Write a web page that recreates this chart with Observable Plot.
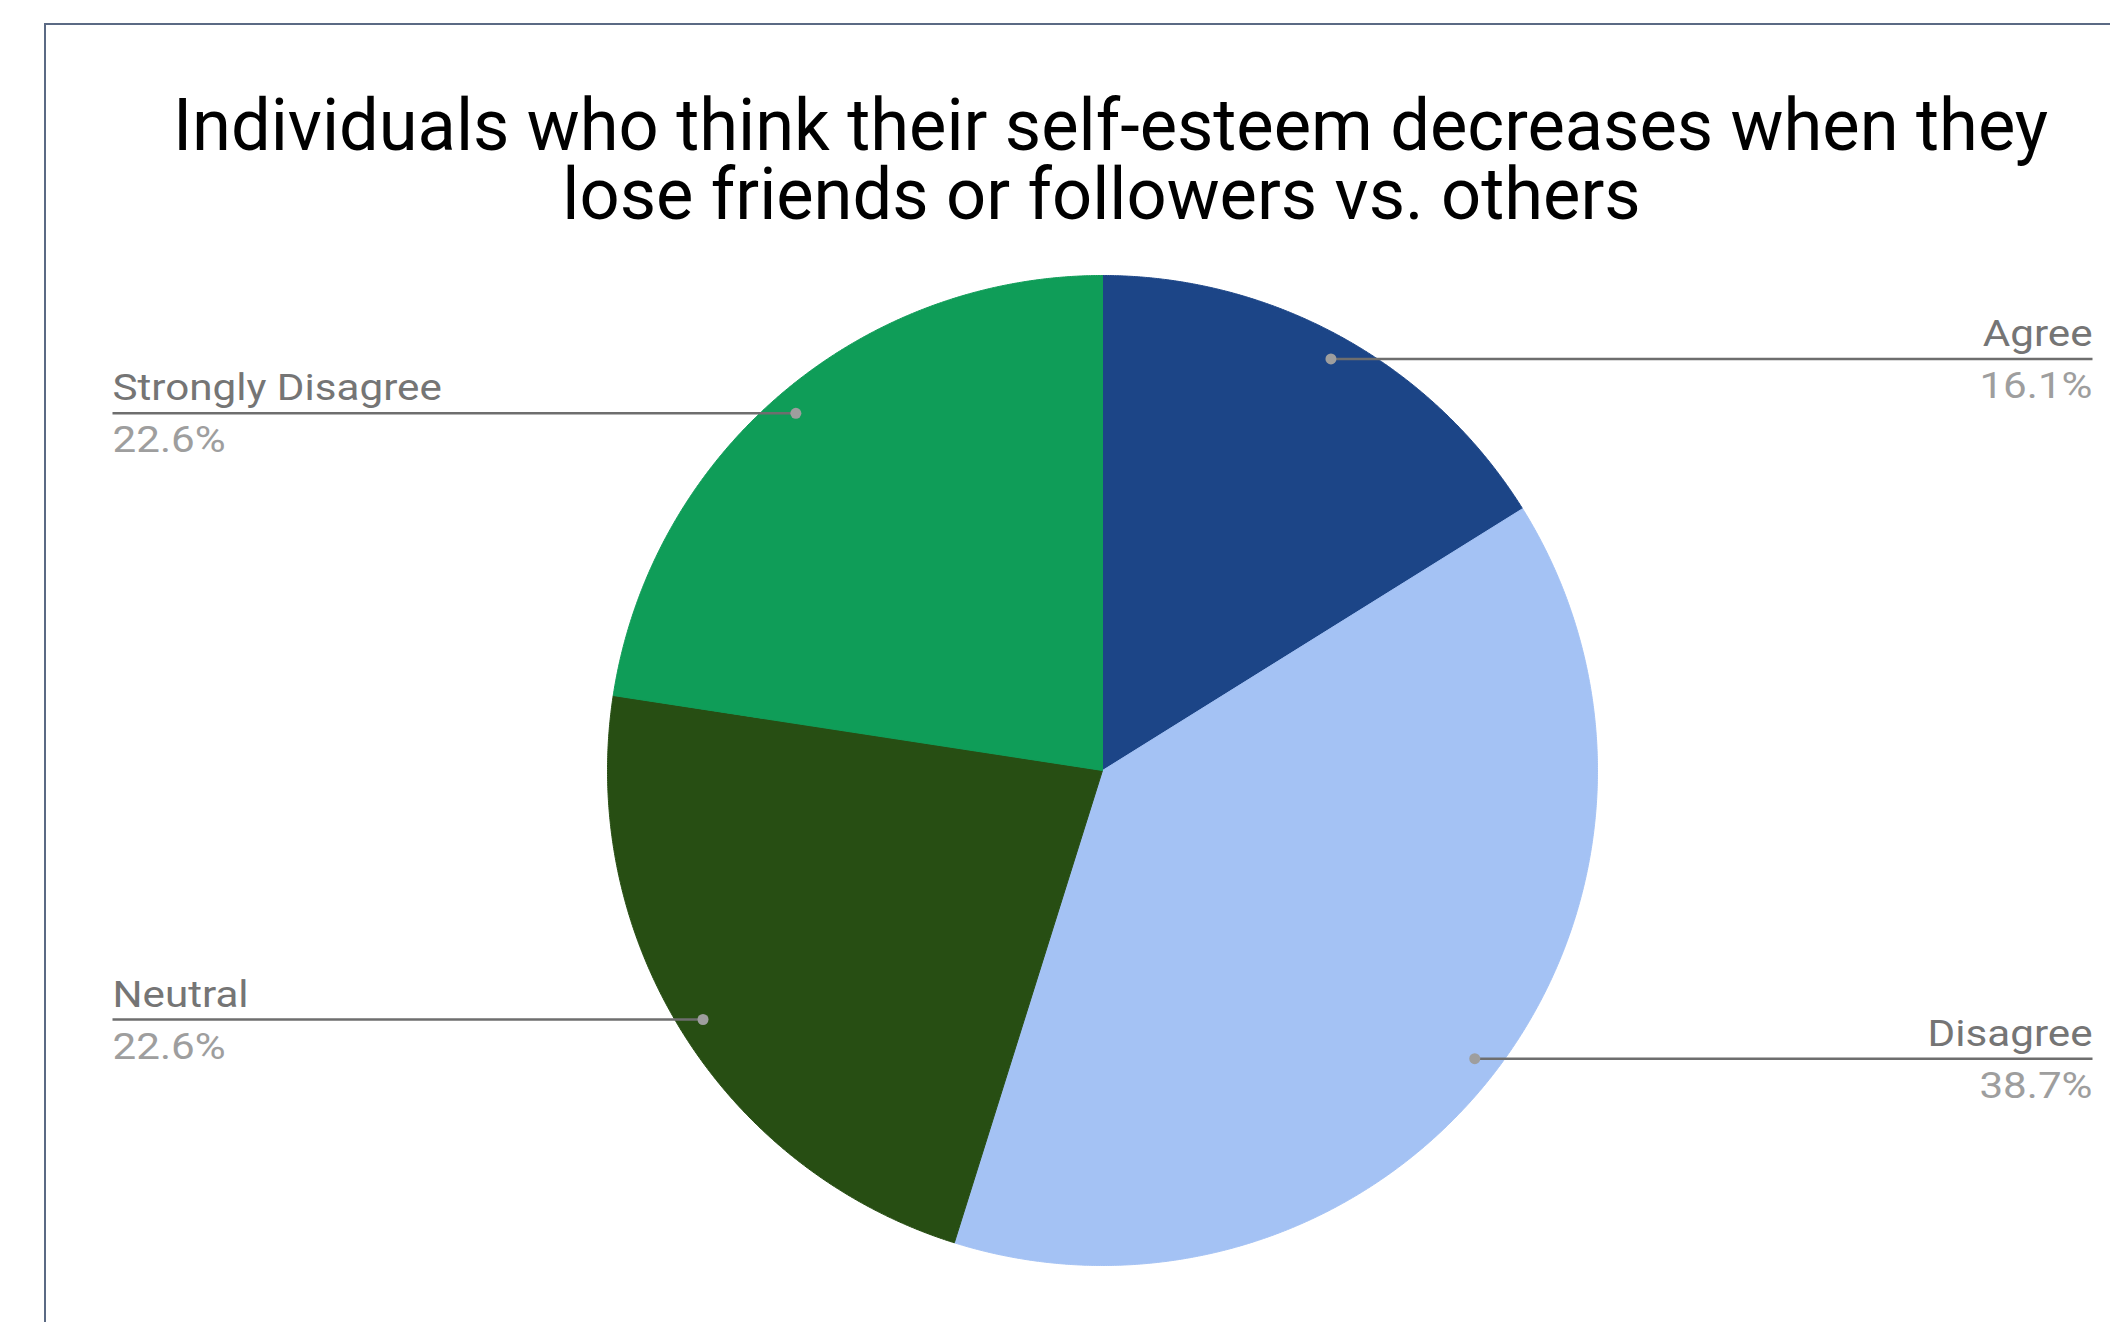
<!DOCTYPE html>
<html>
<head>
<meta charset="utf-8">
<script src="https://cdn.jsdelivr.net/npm/d3@7"></script>
<script src="https://cdn.jsdelivr.net/npm/@observablehq/plot@0.6"></script>
<style>
  html, body { margin: 0; padding: 0; background: #fff; overflow: hidden; width: 2110px; height: 1322px; }
  #chart { position: absolute; left: 0; top: 0; }
  #border { position: absolute; left: 44px; top: 23px; width: 2300px; height: 1500px;
            border-left: 2px solid #5b6a84; border-top: 2px solid #5b6a84; pointer-events: none; }
</style>
</head>
<body>
<div id="chart"></div>
<div id="border"></div>
<script>
// ---- data ----
const titleLines = [
  "Individuals who think their self-esteem decreases when they",
  "lose friends or followers vs. others"
];
const categories = ["Agree", "Disagree", "Neutral", "Strongly Disagree"];
const counts = [5, 12, 7, 7];
const sliceColors = ["#1c4587", "#a4c2f4", "#274e13", "#0f9d58"];

// ---- layout from data ----
const total = d3.sum(counts);
const arcs = d3.pie().sort(null).value(d => d)(counts);
const pct = d3.format(".1%");

const slicePts = [];
arcs.forEach((a, i) => {
  const cat = categories[i];
  slicePts.push({cat, x: 0, y: 0});
  const n = Math.max(2, Math.ceil((a.endAngle - a.startAngle) / (Math.PI / 900)));
  for (let k = 0; k <= n; k++) {
    const t = a.startAngle + (a.endAngle - a.startAngle) * k / n;
    slicePts.push({cat, x: Math.sin(t), y: Math.cos(t)});
  }
  slicePts.push({cat, x: 0, y: 0});
});

const dotR = 0.951;   // leader dot radius (fraction of pie radius)
const labelX = 2.0;   // label edge (in pie radii from centre)
const labels = arcs.map((a, i) => {
  const m = (a.startAngle + a.endAngle) / 2;
  const right = Math.sin(m) > 0;
  return {
    cat: categories[i],
    value: pct(counts[i] / total),
    x: Math.sin(m) * dotR,
    y: Math.cos(m) * dotR,
    ex: right ? labelX : -labelX,
    right
  };
});
const rightLabels = labels.filter(d => d.right);
const leftLabels = labels.filter(d => !d.right);

const nameFont = 37, nameColor = "#757575", valueColor = "#9e9e9e";
const titleFont = 73;

const chart = Plot.plot({
  width: 2110,
  height: 1322,
  margin: 0,
  x: {type: "linear", domain: [-1, 1], range: [607, 1597], axis: null},
  y: {type: "linear", domain: [-1, 1], range: [1265, 275], axis: null},
  color: {domain: categories, range: sliceColors},
  style: {fontFamily: "Roboto, 'Noto Sans', sans-serif", background: "transparent"},
  marks: [
    // slices
    Plot.line(slicePts, {x: "x", y: "y", z: "cat", fill: "cat", stroke: "cat", strokeWidth: 1, curve: "linear"}),
    // leader lines
    Plot.link(labels, {x1: "x", y1: "y", x2: "ex", y2: "y", stroke: "#6e6e6e", strokeWidth: 2.5}),
    Plot.dot(labels, {x: "x", y: "y", r: 5.5, fill: "#9e9e9e", stroke: null}),
    // right labels
    Plot.text(rightLabels, {x: "ex", y: "y", text: "cat", textAnchor: "end", lineAnchor: "bottom", dy: -13, fontSize: nameFont, fill: nameColor}),
    Plot.text(rightLabels, {x: "ex", y: "y", text: "value", textAnchor: "end", lineAnchor: "bottom", dy: 39, fontSize: nameFont, fill: valueColor}),
    // left labels
    Plot.text(leftLabels, {x: "ex", y: "y", text: "cat", textAnchor: "start", lineAnchor: "bottom", dy: -13, fontSize: nameFont, fill: nameColor}),
    Plot.text(leftLabels, {x: "ex", y: "y", text: "value", textAnchor: "start", lineAnchor: "bottom", dy: 39, fontSize: nameFont, fill: valueColor}),
    // title
    Plot.text([titleLines[0]], {frameAnchor: "top", dx: 55, dy: 149, lineAnchor: "bottom", fontSize: titleFont, fill: "#000"}),
    Plot.text([titleLines[1]], {frameAnchor: "top", dx: 46, dy: 218, lineAnchor: "bottom", fontSize: titleFont, fill: "#000"})
  ]
});
// horizontal glyph scaling (about each text's anchor) to match the reference's glyph widths
function stretch(fontSize, sx) {
  chart.querySelectorAll(`g[font-size="${fontSize}"] text`).forEach(t => {
    t.setAttribute("transform", (t.getAttribute("transform") || "") + ` scale(${sx},1)`);
  });
}
stretch(titleFont, 0.965);
stretch(nameFont, 1.14);
document.getElementById("chart").appendChild(chart);
</script>
</body>
</html>
